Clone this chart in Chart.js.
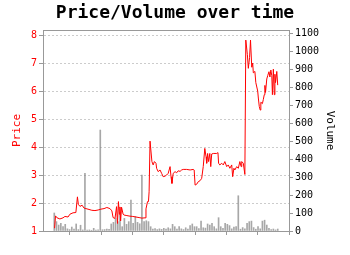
<!DOCTYPE html>
<html>
<head>
<meta charset="utf-8">
<script src="https://cdn.jsdelivr.net/npm/chart.js@4/dist/chart.umd.min.js"></script>
<style>
body { margin: 0; background: #fff; }
</style>
</head>
<body>
<canvas id="chart" width="350" height="255"></canvas>
<script>
// days since first trade, and closing price on that day
const priceDays = [
  1, 4, 9, 18, 28, 34, 44, 50, 60, 69,
  74, 77, 82, 89, 95, 101, 111, 120, 130, 140,
  149, 159, 168, 178, 184, 188, 194, 199, 202, 205,
  208, 210, 212, 215, 220, 223, 232, 242, 251, 261,
  271, 280, 290, 293, 298, 301, 303, 306, 312, 316,
  320, 325, 327, 332, 338, 343, 348, 354, 359, 364,
  370, 373, 376, 380, 386, 391, 396, 402, 407, 412,
  423, 434, 444, 447, 450, 455, 460, 466, 471, 476,
  481, 485, 487, 490, 493, 497, 500, 503, 508, 519,
  523, 525, 529, 535, 540, 545, 551, 556, 561, 567,
  570, 574, 577, 583, 588, 593, 597, 599, 604, 609,
  612, 617, 620, 624, 627, 631, 634, 636, 641, 644,
  650, 652, 655, 658, 660, 665, 668, 671, 673, 675,
  679, 682, 686, 689, 692, 695, 697, 700, 703, 705,
  707, 711, 714
];
const prices = [
  1.10, 1.54, 1.47, 1.43, 1.47, 1.52, 1.50, 1.60, 1.65, 1.66,
  2.22, 1.95, 1.88, 1.92, 1.82, 1.80, 1.77, 1.74, 1.73, 1.75,
  1.78, 1.80, 1.84, 1.80, 1.72, 1.48, 1.45, 1.87, 1.27, 2.05,
  1.60, 1.86, 1.36, 1.85, 1.60, 1.57, 1.55, 1.53, 1.52, 1.50,
  1.48, 1.46, 1.47, 1.79, 2.05, 2.05, 2.40, 4.21, 3.48, 3.36,
  3.48, 3.42, 3.24, 3.12, 3.18, 3.06, 2.94, 2.96, 3.00, 3.06,
  3.30, 2.94, 2.70, 3.06, 3.12, 3.08, 3.15, 3.13, 3.18, 3.20,
  3.20, 3.18, 3.20, 3.18, 2.64, 2.67, 2.76, 2.80, 2.88, 3.30,
  3.95, 3.65, 3.42, 3.77, 3.48, 3.77, 3.30, 3.75, 3.77, 3.77,
  3.80, 3.42, 3.36, 3.42, 3.36, 3.48, 3.30, 3.36, 3.24, 3.36,
  2.94, 3.24, 3.18, 3.30, 3.24, 3.48, 3.30, 3.48, 3.42, 3.02,
  7.82, 7.30, 6.81, 7.20, 7.82, 6.85, 7.00, 6.65, 6.70, 6.30,
  6.00, 5.75, 5.45, 5.32, 5.60, 5.55, 5.70, 5.87, 6.20, 5.95,
  6.43, 6.55, 6.69, 6.50, 6.75, 6.55, 5.87, 6.78, 5.87, 6.60,
  6.30, 6.70, 6.21
];
// weekly traded volume, one value per week starting at day 0
const WEEK = 7;
const volumes = [
  100, 52, 33, 43, 24, 37, 12, 8, 22, 10,
  39, 8, 32, 6, 320, 5, 6, 4, 15, 5,
  6, 561, 7, 8, 10, 9, 39, 48, 70, 52,
  104, 24, 70, 37, 52, 172, 43, 80, 48, 40,
  311, 52, 57, 52, 24, 10, 14, 8, 12, 9,
  15, 10, 18, 12, 37, 24, 10, 24, 12, 8,
  18, 10, 30, 39, 24, 24, 14, 55, 18, 16,
  39, 33, 43, 24, 12, 74, 24, 15, 43, 37,
  30, 12, 22, 24, 196, 10, 19, 12, 43, 52,
  55, 19, 10, 24, 12, 55, 60, 33, 15, 8,
  11, 6, 11
];
const priceTicks = [1, 2, 3, 4, 5, 6, 7, 8];
const volumeTicks = [0, 100, 200, 300, 400, 500, 600, 700, 800, 900, 1000, 1100];

const FONT = 'DejaVu Sans Mono';
const AXIS_GRAY = '#999';

const frameTop = {
  id: 'frameTop',
  afterDraw(chart) {
    const { ctx, chartArea } = chart;
    const y = Math.round(chartArea.top) + 0.5;
    ctx.save();
    ctx.strokeStyle = AXIS_GRAY;
    ctx.lineWidth = 1;
    ctx.beginPath();
    ctx.moveTo(chartArea.left, y);
    ctx.lineTo(chartArea.right, y);
    ctx.stroke();
    ctx.restore();
  }
};

const ctx = document.getElementById('chart').getContext('2d');
new Chart(ctx, {
  type: 'line',
  data: {
    datasets: [
      {
        type: 'line',
        label: 'Price',
        data: priceDays.map((d, i) => ({ x: d, y: prices[i] })),
        borderColor: 'red',
        borderWidth: 1,
        pointRadius: 0,
        tension: 0,
        yAxisID: 'y',
        order: 0
      },
      {
        type: 'bar',
        label: 'Volume',
        data: volumes.map((v, i) => ({ x: i * WEEK, y: v })),
        backgroundColor: 'rgba(130,130,130,0.7)',
        barThickness: 1,
        grouped: false,
        yAxisID: 'y1',
        order: 1
      }
    ]
  },
  options: {
    responsive: false,
    animation: false,
    layout: { padding: 0 },
    plugins: {
      legend: { display: false },
      tooltip: { enabled: false },
      title: {
        display: true,
        text: 'Price/Volume over time',
        color: '#000',
        font: { family: FONT, size: 18, weight: 'bold' },
        padding: { top: 3, bottom: 5.4 }
      }
    },
    scales: {
      x: {
        type: 'linear',
        min: -36,
        max: 750,
        offset: false,
        ticks: { display: false, stepSize: 100, includeBounds: false },
        grid: {
          drawOnChartArea: false,
          tickLength: 4,
          tickColor: AXIS_GRAY,
          tickBorderDash: []
        },
        border: { color: AXIS_GRAY },
        afterFit: (s) => { s.height = 24; }
      },
      y: {
        position: 'left',
        min: 1,
        max: 8.18,
        afterBuildTicks: (s) => { s.ticks = priceTicks.map((v) => ({ value: v })); },
        ticks: {
          color: 'red',
          padding: 2,
          font: { family: FONT, size: 10 }
        },
        grid: {
          color: 'rgba(0,0,0,0.2)',
          tickLength: 4,
          tickColor: AXIS_GRAY,
          tickBorderDash: []
        },
        border: { color: AXIS_GRAY, dash: [2, 2] },
        title: {
          display: true,
          text: 'Price',
          color: 'red',
          font: { family: FONT, size: 11 },
          padding: { top: 11, bottom: 0 }
        },
        afterFit: (s) => { s.width = 43; }
      },
      y1: {
        position: 'right',
        min: 0,
        max: 1117,
        afterBuildTicks: (s) => { s.ticks = volumeTicks.map((v) => ({ value: v })); },
        ticks: {
          color: '#000',
          padding: 2,
          font: { family: FONT, size: 10 },
          callback: (v) => String(v)
        },
        grid: {
          drawOnChartArea: false,
          tickLength: 4,
          tickColor: AXIS_GRAY,
          tickBorderDash: []
        },
        border: { color: AXIS_GRAY },
        title: {
          display: true,
          text: 'Volume',
          color: '#000',
          font: { family: FONT, size: 11 },
          padding: { top: 14, bottom: 0 }
        },
        afterFit: (s) => { s.width = 61; }
      }
    }
  },
  plugins: [frameTop]
});
</script>
</body>
</html>
